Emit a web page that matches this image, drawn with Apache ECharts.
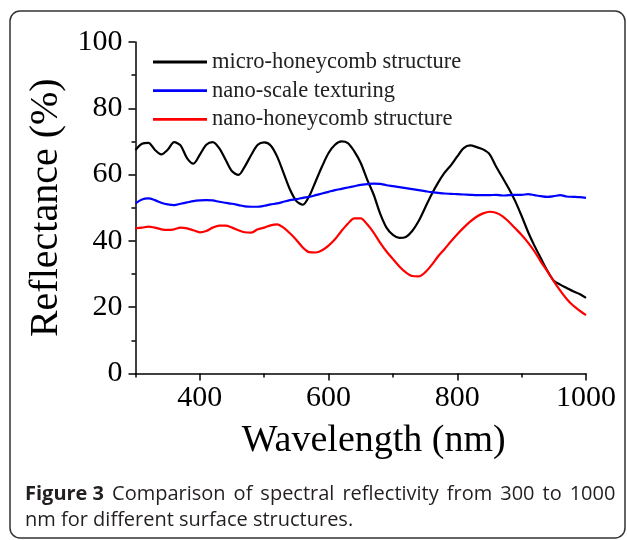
<!DOCTYPE html>
<html>
<head>
<meta charset="utf-8">
<script src="https://cdn.jsdelivr.net/npm/echarts@6/dist/echarts.min.js"></script>
<style>
  html, body { margin: 0; padding: 0; background: #fff; }
  #chart { width: 627px; height: 540px; }
</style>
</head>
<body>
<div id="chart"></div>
<script>
// wavelength samples (nm)
const wavelengths = [300, 310, 320, 330, 340, 350, 360, 370, 380, 390,
  400, 410, 420, 430, 440, 450, 460, 470, 480, 490,
  500, 510, 520, 530, 540, 550, 560, 570, 580, 590,
  600, 610, 620, 630, 640, 650, 660, 670, 680, 690,
  700, 710, 720, 730, 740, 750, 760, 770, 780, 790,
  800, 810, 820, 830, 840, 850, 860, 870, 880, 890,
  900, 910, 920, 930, 940, 950, 960, 970, 980, 990, 1000];

// reflectance (%)
const microHoneycomb = [67.4, 69.3, 69.6, 67.5, 66.1, 67.5, 69.8, 68.8, 65.0, 63.3,
  66.0, 69.0, 69.8, 68.0, 64.5, 61.0, 59.9, 62.5, 66.0, 69.0,
  69.7, 68.8, 65.5, 60.5, 55.5, 52.0, 50.9, 53.5, 58.0, 62.5,
  66.5, 69.0, 70.0, 69.5, 67.0, 63.5, 58.5, 54.0, 48.3, 44.0,
  41.8, 40.9, 41.2, 43.0, 46.0, 50.0, 54.0, 57.5, 60.5, 62.8,
  65.5, 68.0, 68.8, 68.3, 67.6, 66.2, 62.5, 59.2, 55.8, 52.0,
  47.5, 42.7, 38.5, 34.7, 31.0, 28.0, 26.8, 25.8, 24.8, 24.0, 22.8];

const nanoTexturing = [51.3, 52.5, 52.8, 52.3, 51.5, 51.0, 50.8, 51.2, 51.6, 52.0,
  52.2, 52.3, 52.2, 51.8, 51.5, 51.2, 50.8, 50.4, 50.3, 50.3,
  50.6, 51.0, 51.3, 51.8, 52.3, 52.6, 53.0, 53.3, 53.8, 54.3,
  54.8, 55.3, 55.7, 56.1, 56.5, 56.9, 57.1, 57.3, 57.2, 56.8,
  56.5, 56.2, 55.9, 55.6, 55.3, 55.0, 54.7, 54.5, 54.3, 54.2,
  54.1, 54.0, 53.9, 53.8, 53.8, 53.8, 53.9, 53.7, 53.8, 53.9,
  53.9, 54.1, 53.8, 53.5, 53.3, 53.5, 53.8, 53.4, 53.3, 53.2, 53.0];

const nanoHoneycomb = [43.8, 44.0, 44.3, 44.0, 43.5, 43.3, 43.5, 44.0, 43.8, 43.2,
  42.6, 43.0, 44.0, 44.6, 44.6, 44.0, 43.2, 42.6, 42.5, 43.5,
  44.0, 44.7, 45.0, 44.0, 42.3, 40.3, 38.0, 36.6, 36.5, 37.2,
  38.6, 40.5, 43.0, 45.2, 46.8, 46.8, 45.0, 42.5, 39.5, 36.8,
  34.5, 32.3, 30.5, 29.4, 29.3, 30.5, 32.7, 35.3, 37.5, 39.8,
  42.0, 44.0, 45.8, 47.3, 48.3, 48.8, 48.5, 47.5, 45.8, 43.8,
  41.8, 39.5, 36.8, 33.7, 30.8, 27.8, 25.0, 22.5, 20.5, 19.0, 17.6];

const seriesNames = ['micro-honeycomb structure', 'nano-scale texturing', 'nano-honeycomb structure'];
const seriesColors = ['#000000', '#0000ff', '#ff0000'];
const seriesValues = [microHoneycomb, nanoTexturing, nanoHoneycomb];

const xLabelTicks = [400, 600, 800, 1000];
const xMinorTicks = [300, 500, 700, 900];

const captionLine1 = ['Comparison', 'of', 'spectral', 'reflectivity', 'from', '300', 'to', '1000'];

const serif = 'Liberation Serif';

const chart = echarts.init(document.getElementById('chart'));

chart.setOption({
  animation: false,
  backgroundColor: '#fff',
  grid: { left: 135.5, right: 41, top: 42, bottom: 166.5 },
  legend: {
    orient: 'vertical',
    left: 148,
    top: 45,
    icon: 'rect',
    itemWidth: 54,
    itemHeight: 2.8,
    itemGap: 4.7,
    textStyle: { fontFamily: serif, fontSize: 22.5, color: '#222', lineHeight: 24 },
    data: seriesNames
  },
  xAxis: [
    {
      type: 'value',
      min: 300,
      max: 1000,
      interval: 100,
      name: 'Wavelength (nm)',
      nameLocation: 'middle',
      nameGap: 49,
      nameTextStyle: { fontFamily: serif, fontSize: 38, color: '#000', padding: [0, 0, 0, 26] },
      axisLine: { show: true, lineStyle: { color: '#000', width: 1.5 } },
      axisTick: { show: true, customValues: xLabelTicks, length: 7, lineStyle: { color: '#000', width: 1.5 } },
      axisLabel: {
        customValues: xLabelTicks,
        formatter: (v) => String(v),
        fontFamily: serif, fontSize: 30, color: '#000', margin: 10
      },
      splitLine: { show: false }
    },
    {
      type: 'value',
      position: 'bottom',
      min: 300,
      max: 1000,
      interval: 100,
      axisLine: { show: false },
      axisTick: { show: true, customValues: xMinorTicks, length: 4, lineStyle: { color: '#000', width: 1.5 } },
      axisLabel: { show: false },
      splitLine: { show: false }
    }
  ],
  yAxis: {
    type: 'value',
    min: 0,
    max: 100,
    interval: 20,
    name: 'Reflectance (%)',
    nameLocation: 'middle',
    nameGap: 67,
    nameTextStyle: { fontFamily: serif, fontSize: 40, color: '#000' },
    axisLine: { show: true, lineStyle: { color: '#000', width: 1.5 } },
    axisTick: { show: true, length: 7, lineStyle: { color: '#000', width: 1.5 } },
    minorTick: { show: true, splitNumber: 2, length: 4, lineStyle: { color: '#000', width: 1.5 } },
    axisLabel: { fontFamily: serif, fontSize: 30, color: '#000', margin: 13 },
    splitLine: { show: false }
  },
  series: seriesNames.map((name, i) => ({
    name: name,
    type: 'line',
    showSymbol: false,
    symbol: 'none',
    smooth: 0.3,
    color: seriesColors[i],
    lineStyle: { color: seriesColors[i], width: 2.2 },
    data: wavelengths.map((w, j) => [w, seriesValues[i][j]])
  })),
  graphic: [
    {
      type: 'rect',
      shape: { x: 10, y: 11, width: 615, height: 527, r: 10 },
      style: { fill: 'none', stroke: '#333', lineWidth: 1.5 },
      silent: true
    },
    {
      // first caption line is justified in the original, so widen the word gaps
      type: 'text',
      left: 25,
      top: 484,
      style: {
        text: '{b|Figure 3}{sp| }' + captionLine1.join('{sp| }'),
        fontFamily: 'Open Sans',
        fontSize: 20,
        fill: '#231f20',
        rich: {
          b: { fontWeight: 'bold', fontFamily: 'Open Sans', fontSize: 20, fill: '#231f20' },
          sp: { width: 8, fontFamily: 'Open Sans', fontSize: 20 }
        }
      }
    },
    {
      type: 'text',
      left: 25,
      top: 510,
      style: {
        text: 'nm for different surface structures.',
        fontFamily: 'Open Sans',
        fontSize: 20,
        fill: '#231f20'
      }
    }
  ]
});
</script>
</body>
</html>
